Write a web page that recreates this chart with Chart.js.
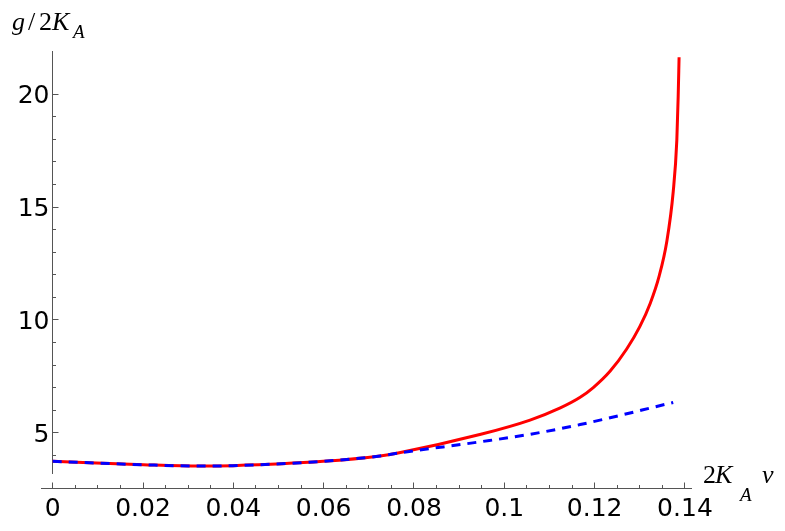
<!DOCTYPE html>
<html>
<head>
<meta charset="utf-8">
<script src="https://cdn.jsdelivr.net/npm/chart.js@4.4.1/dist/chart.umd.min.js"></script>
<style>
    body { margin: 0; background: #fff; }
    #wrap { width: 785px; height: 531px; }
</style>
</head>
<body>
<div id="wrap"><canvas id="myChart"></canvas></div>
<script>
// exact curve (red)
const redX = [0, 0.0201, 0.0326, 0.0399, 0.0599, 0.0725, 0.0762, 0.0948, 0.1057, 0.1124, 0.1168, 0.1197, 0.1234, 0.1271, 0.1300, 0.1323, 0.1343, 0.1360, 0.1374, 0.1382, 0.1385, 0.1387];
const redY = [3.73, 3.58, 3.52, 3.54, 3.73, 3.97, 4.09, 4.93, 5.56, 6.10, 6.57, 7.00, 7.72, 8.71, 9.70, 10.73, 11.95, 13.50, 15.68, 17.97, 19.90, 21.64];

// approximation (blue, dashed)
const blueX = [0, 0.0201, 0.0326, 0.0399, 0.0599, 0.0725, 0.0762, 0.0948, 0.1057, 0.1168, 0.1374];
const blueY = [3.73, 3.58, 3.52, 3.54, 3.73, 3.97, 4.09, 4.60, 4.93, 5.36, 6.34];

const xTicks = [0, 0.02, 0.04, 0.06, 0.08, 0.1, 0.12, 0.14];
const xTickLabels = ['0', '0.02', '0.04', '0.06', '0.08', '0.1', '0.12', '0.14'];
const yTicks = [5, 10, 15, 20];
const yTickLabels = ['5', '10', '15', '20'];

function toPoints(xs, ys) {
    return xs.map((x, i) => ({ x: x, y: ys[i] }));
}

const axesPlugin = {
    id: 'mmaAxes',
    beforeDatasetsDraw(chart) {
        const ctx = chart.ctx;
        const xs = chart.scales.x;
        const ys = chart.scales.y;
        const area = chart.chartArea;
        const ax = Math.floor(xs.getPixelForValue(0)) + 0.5;
        const ay = Math.floor(area.bottom) + 0.5;

        ctx.save();
        ctx.strokeStyle = '#555';
        ctx.lineWidth = 1;
        ctx.beginPath();
        // x axis
        ctx.moveTo(area.left, ay);
        ctx.lineTo(area.right, ay);
        // y axis
        ctx.moveTo(ax, ys.getPixelForValue(3.17));
        ctx.lineTo(ax, area.top);
        // x ticks, minor every 0.005
        for (let i = 0; i <= 28; i++) {
            const px = Math.floor(xs.getPixelForValue(i * 0.005)) + 0.5;
            const len = i % 4 === 0 ? 6 : 3.5;
            ctx.moveTo(px, ay);
            ctx.lineTo(px, ay - len);
        }
        // y ticks, minor every 1
        for (let v = 4; v <= 20; v++) {
            const py = Math.floor(ys.getPixelForValue(v)) + 0.5;
            const len = v % 5 === 0 ? 6 : 3.5;
            ctx.moveTo(ax, py);
            ctx.lineTo(ax + len, py);
        }
        ctx.stroke();

        ctx.fillStyle = '#000';
        ctx.font = '25px "DejaVu Sans"';
        ctx.textBaseline = 'alphabetic';
        ctx.textAlign = 'center';
        xTicks.forEach((t, i) => {
            ctx.fillText(xTickLabels[i], xs.getPixelForValue(t), ay + 27);
        });
        ctx.textAlign = 'right';
        yTicks.forEach((t, i) => {
            ctx.fillText(yTickLabels[i], ax - 3, ys.getPixelForValue(t) + 9);
        });
        ctx.restore();
    },
    afterDraw(chart) {
        const ctx = chart.ctx;
        ctx.save();
        ctx.fillStyle = '#000';
        ctx.textBaseline = 'alphabetic';
        ctx.textAlign = 'left';
        const it = 'italic 26px "Liberation Serif"';
        const up = '26px "Liberation Serif"';
        const sub = 'italic 19px "Liberation Serif"';
        const pieces = [
            // y axis title g/2K_A
            [it, 'g', 12, 30], [up, '/', 28, 30], [up, '2', 39, 30], [it, 'K', 52, 30], [sub, 'A', 73, 38],
            // x axis title 2K_A v
            [up, '2', 703, 483], [it, 'K', 715, 483], [sub, 'A', 740, 501], [it, 'v', 762, 483]
        ];
        pieces.forEach(p => {
            ctx.font = p[0];
            ctx.fillText(p[1], p[2], p[3]);
        });
        ctx.restore();
    }
};

document.addEventListener('DOMContentLoaded', function () {
    const ctx1 = document.getElementById('myChart');

    new Chart(ctx1, {
        type: 'line',
        data: {
            datasets: [{
                label: 'exact',
                data: toPoints(redX, redY),
                borderColor: '#ff0000',
                borderWidth: 3,
                pointRadius: 0,
                cubicInterpolationMode: 'monotone',
                fill: false,
                order: 2
            }, {
                label: 'approx',
                data: toPoints(blueX, blueY),
                borderColor: '#0000ff',
                borderWidth: 3,
                borderDash: [9, 7],
                pointRadius: 0,
                cubicInterpolationMode: 'monotone',
                fill: false,
                order: 1
            }]
        },
        options: {
            responsive: true,
            maintainAspectRatio: false,
            devicePixelRatio: 1,
            animation: false,
            layout: {
                padding: { left: 41, right: 93, top: 51, bottom: 43 }
            },
            scales: {
                x: {
                    type: 'linear',
                    min: -0.00259,
                    max: 0.14156,
                    display: false
                },
                y: {
                    min: 2.549,
                    max: 21.919,
                    display: false
                }
            },
            plugins: {
                legend: { display: false },
                tooltip: { enabled: false }
            }
        },
        plugins: [axesPlugin]
    });
});
</script>
</body>
</html>
